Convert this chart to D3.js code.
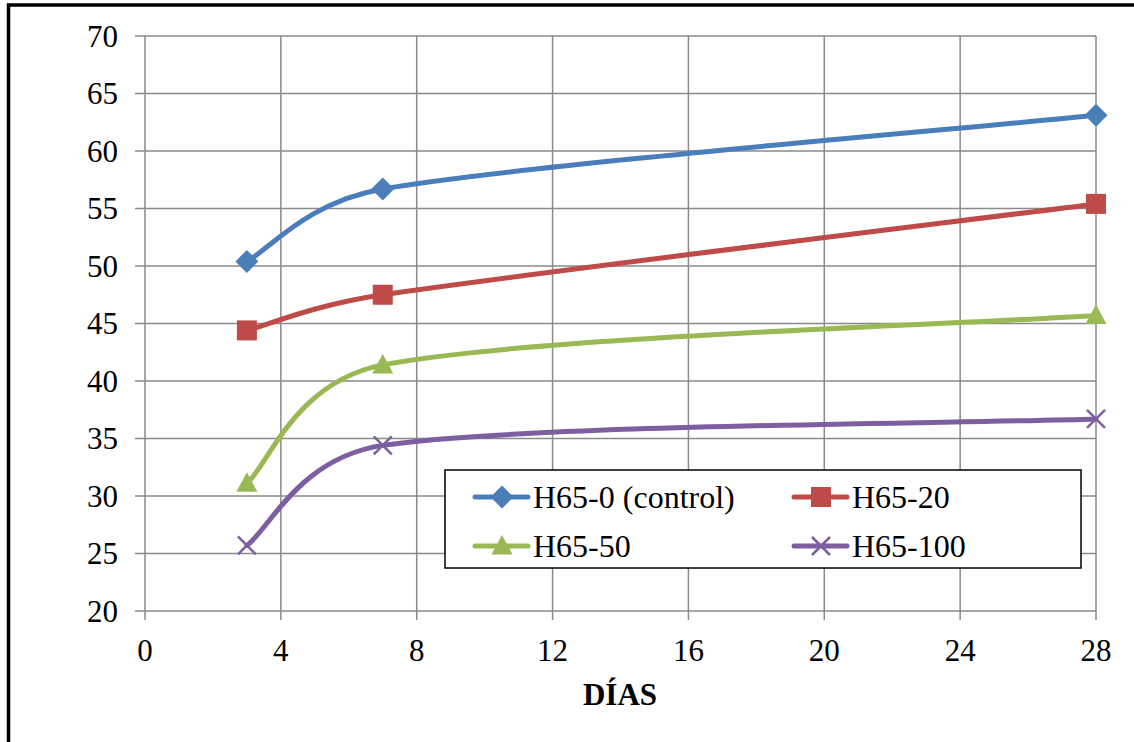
<!DOCTYPE html>
<html lang="es">
<head>
<meta charset="UTF-8">
<title>Resistencia vs días</title>
<script src="https://d3js.org/d3.v7.min.js"></script>
<style>
  body { margin: 0; background: #fff; }
</style>
</head>
<body>
<div class="canvas"></div>
<script>
  // data
  const dias = [3, 7, 28]
  const h65_0 = [50.4, 56.7, 63.1]
  const h65_20 = [44.4, 47.5, 55.4]
  const h65_50 = [31.1, 41.4, 45.7]
  const h65_100 = [25.7, 34.4, 36.7]
  const seriesNames = ['H65-0 (control)', 'H65-20', 'H65-50', 'H65-100']
  const xTicks = [0, 4, 8, 12, 16, 20, 24, 28]
  const yTicks = [20, 25, 30, 35, 40, 45, 50, 55, 60, 65, 70]

  const width = 1134
  const height = 742
  const [ml, mt] = [145, 36]
  const graphWidth = 1096 - ml
  const graphHeight = 611 - mt
  const FONT = '"Liberation Serif", "Times New Roman", serif'

  const svg = d3.select('.canvas')
    .append('svg')
    .attr('width', width)
    .attr('height', height)
    .attr('font-family', FONT)

  // outer frame
  svg.append('rect')
    .attr('x', 8.5).attr('y', 5)
    .attr('width', width).attr('height', height)
    .attr('fill', 'none')
    .attr('stroke', '#000')
    .attr('stroke-width', 3.5)

  const graph = svg.append('g')
    .attr('transform', `translate(${ml}, ${mt})`)

  const x = d3.scaleLinear().domain([0, 28]).range([0, graphWidth])
  const y = d3.scaleLinear().domain([20, 70]).range([graphHeight, 0])

  const gridColor = '#8a8a8a'

  // grid
  graph.append('g').selectAll('line')
    .data(xTicks)
    .join('line')
    .attr('x1', d => x(d)).attr('x2', d => x(d))
    .attr('y1', 0).attr('y2', graphHeight + 9)
    .attr('stroke', gridColor).attr('stroke-width', 1.5)

  graph.append('g').selectAll('line')
    .data(yTicks)
    .join('line')
    .attr('x1', -10).attr('x2', graphWidth)
    .attr('y1', d => y(d)).attr('y2', d => y(d))
    .attr('stroke', gridColor).attr('stroke-width', 1.5)

  // tick labels
  graph.append('g').selectAll('text')
    .data(yTicks)
    .join('text')
    .attr('x', -27)
    .attr('y', d => y(d))
    .attr('dy', '0.34em')
    .attr('text-anchor', 'end')
    .attr('font-family', FONT)
    .attr('font-size', 31)
    .text(d => d)

  graph.append('g').selectAll('text')
    .data(xTicks)
    .join('text')
    .attr('x', d => x(d))
    .attr('y', graphHeight + 50)
    .attr('text-anchor', 'middle')
    .attr('font-family', FONT)
    .attr('font-size', 31)
    .text(d => d)

  svg.append('text')
    .attr('x', 620)
    .attr('y', 705)
    .attr('text-anchor', 'middle')
    .attr('font-family', FONT)
    .attr('font-size', 31)
    .attr('font-weight', 'bold')
    .text('DÍAS')

  const series = [
    { name: seriesNames[0], values: h65_0, color: '#4a7ebb', marker: 'diamond' },
    { name: seriesNames[1], values: h65_20, color: '#be4b48', marker: 'square' },
    { name: seriesNames[2], values: h65_50, color: '#98b954', marker: 'triangle' },
    { name: seriesNames[3], values: h65_100, color: '#7d5fa0', marker: 'x' }
  ]

  // Excel-like smoothed line: bezier with tangents from neighbours,
  // handle length limited by the segment length
  function smoothPath(pts) {
    const p = d3.path()
    const n = pts.length
    const tan = pts.map((pt, i) => {
      if (i === 0 || i === n - 1) return null
      const dx = pts[i + 1][0] - pts[i - 1][0]
      const dy = pts[i + 1][1] - pts[i - 1][1]
      const len = Math.hypot(dx, dy)
      return { ux: dx / len, uy: dy / len, len: len / 6 }
    })
    p.moveTo(pts[0][0], pts[0][1])
    for (let i = 0; i < n - 1; i++) {
      const a = pts[i], b = pts[i + 1]
      const L = Math.hypot(b[0] - a[0], b[1] - a[1])
      // end points: handle along the chord
      let c1 = [a[0] + (b[0] - a[0]) / 6, a[1] + (b[1] - a[1]) / 6]
      let c2 = [b[0] - (b[0] - a[0]) / 6, b[1] - (b[1] - a[1]) / 6]
      if (tan[i]) {
        const h = Math.min(tan[i].len, L * 0.5)
        c1 = [a[0] + tan[i].ux * h, a[1] + tan[i].uy * h]
      }
      if (tan[i + 1]) {
        const h = Math.min(tan[i + 1].len, L * 0.5)
        c2 = [b[0] - tan[i + 1].ux * h, b[1] - tan[i + 1].uy * h]
      }
      p.bezierCurveTo(c1[0], c1[1], c2[0], c2[1], b[0], b[1])
    }
    return p.toString()
  }

  function drawMarker(g, type, color, cx, cy) {
    if (type === 'diamond') {
      g.append('path')
        .attr('d', `M${cx},${cy - 11.5}L${cx + 11.5},${cy}L${cx},${cy + 11.5}L${cx - 11.5},${cy}Z`)
        .attr('fill', color)
    } else if (type === 'square') {
      g.append('rect')
        .attr('x', cx - 10).attr('y', cy - 10)
        .attr('width', 20).attr('height', 20)
        .attr('fill', color)
    } else if (type === 'triangle') {
      g.append('path')
        .attr('d', `M${cx},${cy - 11}L${cx + 10.5},${cy + 8.5}L${cx - 10.5},${cy + 8.5}Z`)
        .attr('fill', color)
    } else {
      g.append('path')
        .attr('d', `M${cx - 9},${cy - 9}L${cx + 9},${cy + 9}M${cx - 9},${cy + 9}L${cx + 9},${cy - 9}`)
        .attr('stroke', color)
        .attr('stroke-width', 2.5)
        .attr('fill', 'none')
    }
  }

  series.forEach(s => {
    const pts = dias.map((d, i) => [x(d), y(s.values[i])])
    graph.append('path')
      .attr('d', smoothPath(pts))
      .attr('fill', 'none')
      .attr('stroke', s.color)
      .attr('stroke-width', 5)
      .attr('stroke-linecap', 'round')
    const mg = graph.append('g')
    pts.forEach(pt => drawMarker(mg, s.marker, s.color, pt[0], pt[1]))
  })

  // legend
  const legend = svg.append('g').attr('transform', 'translate(445, 470)')
  legend.append('rect')
    .attr('width', 636).attr('height', 98)
    .attr('fill', '#fff')
    .attr('stroke', '#000')
    .attr('stroke-width', 1.5)

  series.forEach((s, i) => {
    const col = i % 2
    const row = Math.floor(i / 2)
    const lx = 30 + col * 319
    const ly = 27 + row * 49
    const lg = legend.append('g')
    lg.append('line')
      .attr('x1', lx).attr('x2', lx + 53)
      .attr('y1', ly).attr('y2', ly)
      .attr('stroke', s.color)
      .attr('stroke-width', 5)
      .attr('stroke-linecap', 'round')
    drawMarker(lg, s.marker, s.color, lx + 27, ly)
    lg.append('text')
      .attr('x', lx + 58)
      .attr('y', ly)
      .attr('dy', '0.34em')
      .attr('font-family', FONT)
      .attr('font-size', 32)
      .text(s.name)
  })
</script>
</body>
</html>
